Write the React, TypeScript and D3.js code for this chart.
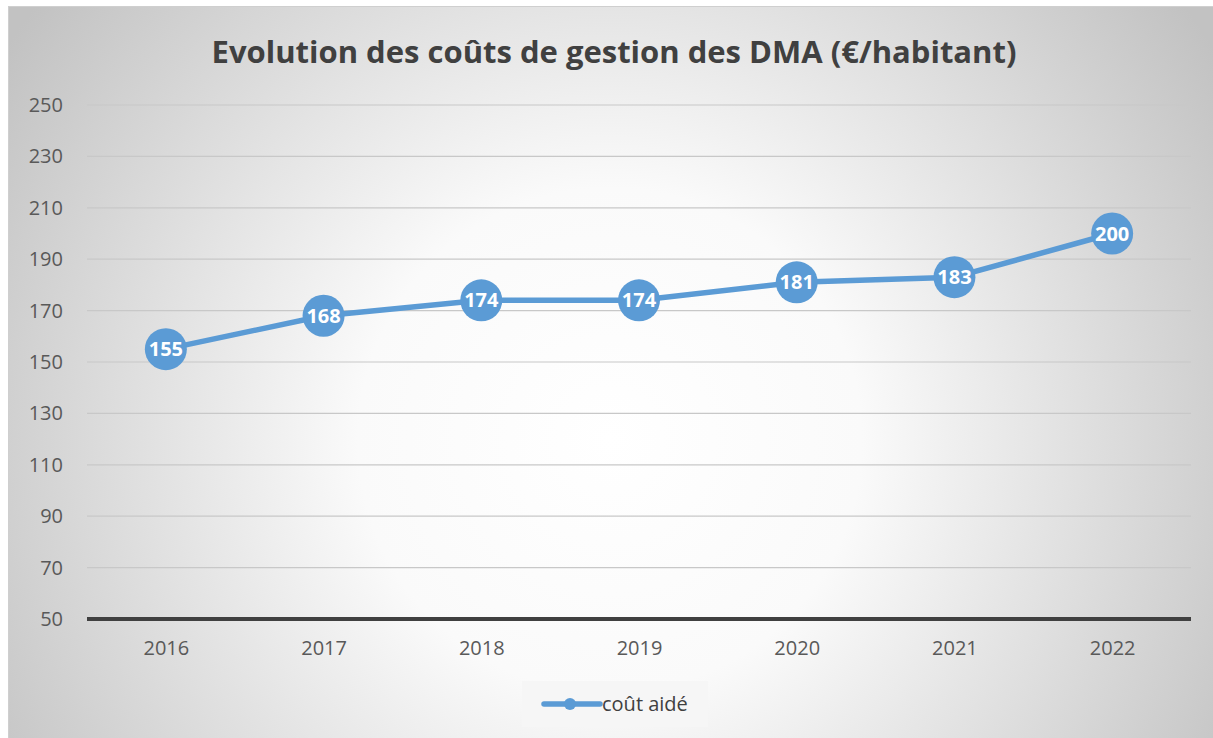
import { useEffect, useRef } from 'react'
import * as d3 from 'd3'

const W = 1213
const H = 738
const MARGIN = { top: 105, right: 22, bottom: 119, left: 87 }

const years = ['2016', '2017', '2018', '2019', '2020', '2021', '2022']
const coutAide = [155, 168, 174, 174, 181, 183, 200]
const yTicks = [50, 70, 90, 110, 130, 150, 170, 190, 210, 230, 250]

const FONT = "'Open Sans', 'Noto Sans', sans-serif"
const BLUE = '#5b9bd5'

export default function App() {
  const svgRef = useRef<SVGSVGElement>(null)

  useEffect(() => {
    const svg = d3.select(svgRef.current)
    svg.selectAll('*').remove()

    const iW = W - MARGIN.left - MARGIN.right
    const iH = H - MARGIN.top - MARGIN.bottom

    const x = d3.scalePoint<string>().domain(years).range([0, iW]).padding(0.5)
    const y = d3.scaleLinear().domain([50, 250]).range([iH, 0])

    // background gradient
    const defs = svg.append('defs')
    const grad = defs.append('radialGradient')
      .attr('id', 'bg-grad')
      .attr('gradientUnits', 'userSpaceOnUse')
      .attr('cx', 610).attr('cy', 440).attr('r', 720)
    grad.append('stop').attr('offset', '0%').attr('stop-color', '#ffffff')
    grad.append('stop').attr('offset', '35%').attr('stop-color', '#fafafa')
    grad.append('stop').attr('offset', '100%').attr('stop-color', '#c2c2c2')

    svg.append('rect')
      .attr('x', 8.5).attr('y', 6.5)
      .attr('width', W - 8).attr('height', H)
      .attr('fill', 'url(#bg-grad)')
      .attr('stroke', '#cfcfcf')

    // title
    svg.append('text')
      .attr('x', 614).attr('y', 63)
      .attr('text-anchor', 'middle')
      .attr('font-family', FONT)
      .attr('font-weight', 700)
      .attr('font-size', 31)
      .attr('fill', '#404040')
      .text('Evolution des coûts de gestion des DMA (€/habitant)')

    const g = svg.append('g').attr('transform', `translate(${MARGIN.left},${MARGIN.top})`)

    // grid
    g.append('g')
      .selectAll('line')
      .data(yTicks.filter(t => t !== 50))
      .join('line')
      .attr('x1', 0).attr('x2', iW)
      .attr('y1', d => y(d)).attr('y2', d => y(d))
      .attr('stroke', '#c8c8c8')
      .attr('stroke-width', 1.2)

    // y axis labels
    const yAxis = d3.axisLeft(y).tickValues(yTicks).tickSize(0).tickPadding(24)
    g.append('g')
      .call(yAxis)
      .call(ax => ax.select('.domain').remove())
      .call(ax => ax.selectAll('text')
        .attr('font-size', 20)
        .attr('fill', '#595959')
        .attr('font-family', FONT))

    // x axis labels
    const xAxis = d3.axisBottom(x).tickSize(0).tickPadding(22)
    g.append('g')
      .attr('transform', `translate(0,${iH})`)
      .call(xAxis)
      .call(ax => ax.select('.domain').remove())
      .call(ax => ax.selectAll('text')
        .attr('font-size', 20)
        .attr('fill', '#595959')
        .attr('font-family', FONT))

    // baseline
    g.append('line')
      .attr('x1', 0).attr('x2', iW)
      .attr('y1', y(50)).attr('y2', y(50))
      .attr('stroke', '#404040')
      .attr('stroke-width', 4)

    const pts = years.map((yr, i) => ({ yr, v: coutAide[i] }))

    const line = d3.line<{ yr: string, v: number }>()
      .x(d => x(d.yr)!)
      .y(d => y(d.v))

    g.append('path')
      .datum(pts)
      .attr('fill', 'none')
      .attr('stroke', BLUE)
      .attr('stroke-width', 5.5)
      .attr('stroke-linejoin', 'round')
      .attr('d', line)

    const marks = g.append('g').selectAll('g').data(pts).join('g')
      .attr('transform', d => `translate(${x(d.yr)},${y(d.v)})`)
    marks.append('circle')
      .attr('r', 21)
      .attr('fill', BLUE)
    marks.append('text')
      .attr('text-anchor', 'middle')
      .attr('dy', '0.35em')
      .attr('font-family', FONT)
      .attr('font-weight', 700)
      .attr('font-size', 20)
      .attr('fill', '#ffffff')
      .text(d => d.v)

    // legend
    const lg = svg.append('g').attr('transform', 'translate(522,681)')
    lg.append('rect')
      .attr('width', 186).attr('height', 46)
      .attr('fill', '#f6f6f6')
    lg.append('line')
      .attr('x1', 22).attr('x2', 78)
      .attr('y1', 23).attr('y2', 23)
      .attr('stroke', BLUE)
      .attr('stroke-width', 5.5)
      .attr('stroke-linecap', 'round')
    lg.append('circle')
      .attr('cx', 48).attr('cy', 23).attr('r', 6)
      .attr('fill', BLUE)
    lg.append('text')
      .attr('x', 80).attr('y', 23)
      .attr('dy', '0.35em')
      .attr('font-family', FONT)
      .attr('font-size', 20)
      .attr('fill', '#404040')
      .text('coût aidé')
  }, [])

  return (
    <svg
      ref={svgRef}
      width={W}
      height={H}
      style={{ position: 'absolute', left: 0, top: 0, display: 'block' }}
    />
  )
}
